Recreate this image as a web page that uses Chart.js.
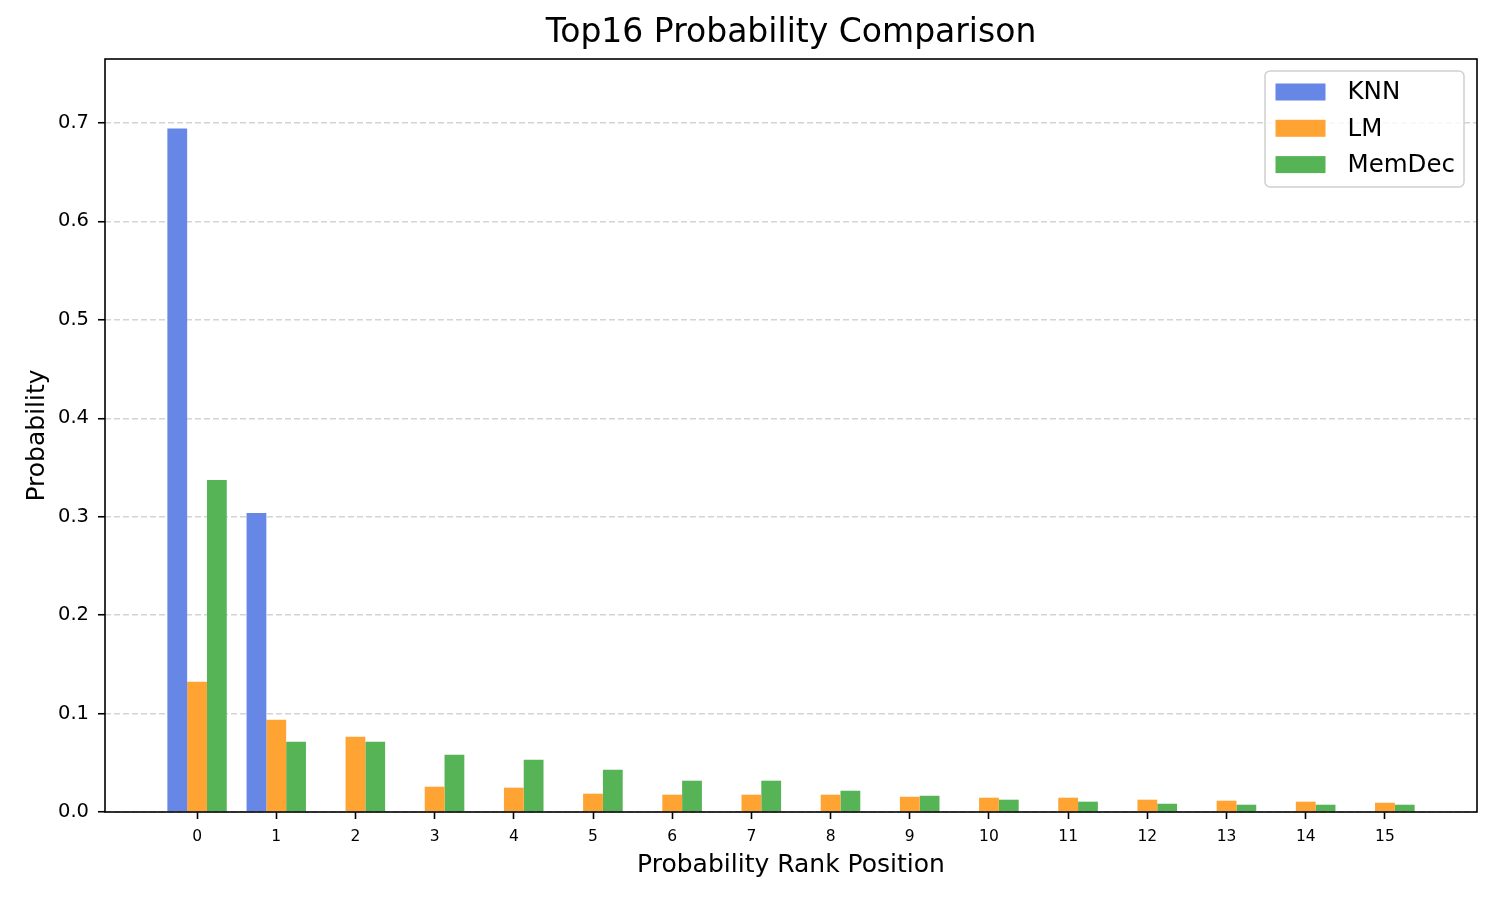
<!DOCTYPE html>
<html>
<head>
<meta charset="utf-8">
<script src="https://cdn.jsdelivr.net/npm/chart.js@4"></script>
<style>
  body { margin: 0; background: #fff; }
  canvas { display: block; }
</style>
</head>
<body>
<canvas id="probChart" width="1500" height="900"></canvas>
<script>
// rank positions and the three probability series
const ranks = [0, 1, 2, 3, 4, 5, 6, 7, 8, 9, 10, 11, 12, 13, 14, 15];
const knnProbs = [0.6945, 0.3038, 0, 0, 0, 0, 0, 0, 0, 0, 0, 0, 0, 0, 0, 0];
const lmProbs = [0.1322, 0.0937, 0.0764, 0.0257, 0.0247, 0.0186, 0.0176, 0.0176,
                 0.0176, 0.0155, 0.0145, 0.0145, 0.0125, 0.0115, 0.0105, 0.0094];
const memdecProbs = [0.3373, 0.0714, 0.0714, 0.0582, 0.0531, 0.0429, 0.0318, 0.0318,
                     0.0216, 0.0165, 0.0125, 0.0105, 0.0084, 0.0074, 0.0074, 0.0074];
const seriesNames = ['KNN', 'LM', 'MemDec'];
const yTicks = [0, 0.1, 0.2, 0.3, 0.4, 0.5, 0.6, 0.7];
const yMax = 0.765;
const xMin = -1.1625;
const xMax = 16.1625;

// colours (matplotlib royalblue / darkorange / green with alpha 0.8)
const barColors = ['#6787E7', '#FFA333', '#56B356'];
const FONT = 'DejaVu Sans';

function toPoints(values) {
    return ranks.map((r, i) => ({ x: r, y: values[i] }));
}

// full box round the axes (matplotlib spines)
const frameBox = {
    id: 'frameBox',
    afterDatasetsDraw(chart) {
        const { ctx, chartArea: a } = chart;
        ctx.save();
        ctx.strokeStyle = '#000';
        ctx.lineWidth = 1.6;
        ctx.strokeRect(a.left, a.top, a.right - a.left, a.bottom - a.top);
        ctx.restore();
    }
};

// legend drawn inside the plot, top right
const insideLegend = {
    id: 'insideLegend',
    afterDraw(chart) {
        const { ctx, chartArea: a } = chart;
        const w = 199, h = 116;
        const x = a.right - 13 - w;
        const y = a.top + 12;
        ctx.save();
        ctx.beginPath();
        ctx.roundRect(x, y, w, h, 5);
        ctx.fillStyle = 'rgba(255,255,255,0.8)';
        ctx.fill();
        ctx.strokeStyle = '#d0d0d0';
        ctx.lineWidth = 1.5;
        ctx.stroke();
        ctx.font = '24.5px "' + FONT + '"';
        ctx.textBaseline = 'middle';
        chart.data.datasets.forEach((ds, i) => {
            const cy = y + 21 + i * 36.3;
            ctx.fillStyle = ds.backgroundColor;
            ctx.fillRect(x + 10.5, cy - 8.5, 50, 17);
            ctx.fillStyle = '#000';
            ctx.fillText(ds.label, x + 82.5, cy + 1);
        });
        ctx.restore();
    }
};

const ctx = document.getElementById('probChart').getContext('2d');
new Chart(ctx, {
    type: 'bar',
    data: {
        datasets: [knnProbs, lmProbs, memdecProbs].map((vals, i) => ({
            label: seriesNames[i],
            data: toPoints(vals),
            backgroundColor: barColors[i],
            borderWidth: 0,
            categoryPercentage: 0.75,
            barPercentage: 1.0
        }))
    },
    options: {
        responsive: false,
        animation: false,
        layout: { padding: { left: 0, right: 23, top: 0, bottom: 0 } },
        plugins: {
            legend: { display: false },
            tooltip: { enabled: false },
            title: {
                display: true,
                text: 'Top16 Probability Comparison',
                fullSize: false,
                color: '#000',
                font: { family: FONT, size: 33, weight: 'normal' },
                padding: { top: 14, bottom: 5.4 }
            }
        },
        scales: {
            x: {
                type: 'linear',
                min: xMin,
                max: xMax,
                offset: false,
                border: { display: false },
                grid: {
                    offset: false,
                    drawOnChartArea: false,
                    drawTicks: true,
                    tickLength: 7,
                    tickColor: '#000',
                    tickWidth: 1.6
                },
                afterBuildTicks(scale) {
                    scale.ticks = ranks.map(v => ({ value: v }));
                },
                afterFit(scale) { scale.height = 88; },
                ticks: {
                    color: '#000',
                    padding: 9,
                    maxRotation: 0,
                    autoSkip: false,
                    font: { family: FONT, size: 15.5 },
                    callback: v => String(v)
                },
                title: {
                    display: true,
                    text: 'Probability Rank Position',
                    color: '#000',
                    font: { family: FONT, size: 25 },
                    padding: { top: 0, bottom: 20 }
                }
            },
            y: {
                min: 0,
                max: yMax,
                border: { display: false, dash: [6, 3] },
                grid: {
                    color: '#d4d4d4',
                    lineWidth: 1.5,
                    drawTicks: true,
                    tickLength: 7,
                    tickColor: '#000',
                    tickWidth: 1.6,
                    tickBorderDash: []
                },
                afterBuildTicks(scale) {
                    scale.ticks = yTicks.map(v => ({ value: v }));
                },
                afterFit(scale) { scale.width = 105; },
                ticks: {
                    color: '#000',
                    padding: 9,
                    font: { family: FONT, size: 19.5 },
                    callback: v => v.toFixed(1)
                },
                title: {
                    display: true,
                    text: 'Probability',
                    color: '#000',
                    font: { family: FONT, size: 25 },
                    padding: { top: 22, bottom: 0 }
                }
            }
        }
    },
    plugins: [frameBox, insideLegend]
});
</script>
</body>
</html>
